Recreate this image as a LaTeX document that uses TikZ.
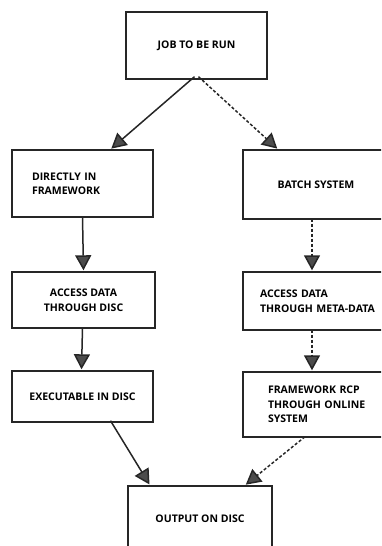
\documentclass[tikz,border=0pt]{standalone}
\usepackage{fontspec}
\setmainfont{Open Sans}
\usepackage{tikz}
\usetikzlibrary{arrows.meta}

\begin{document}
\begin{tikzpicture}[x=1pt,y=-1pt,
  procbox/.style={draw=black!85,line width=1.4pt,inner sep=0pt,font=\bfseries\fontsize{10.5}{14.5}\selectfont},
  flow/.style={draw=black!85,line width=1.5pt,-{Triangle[length=15pt,width=16pt,fill=black!70]},shorten >=1pt},
  batchflow/.style={flow,dash pattern=on 3pt off 2pt}]

\useasboundingbox (0,0) rectangle (381,546);
\clip (0,0) rectangle (381,546);

%% boxes
\node[procbox,minimum width=141pt,minimum height=67pt] (job) at (196.5,45.5) {JOB TO BE RUN};
\node[procbox,minimum width=141pt,minimum height=67pt,text width=101pt,align=left] (direct) at (82.5,183.5) {DIRECTLY IN\\FRAMEWORK};
\node[procbox,minimum width=146pt,minimum height=69pt] (batch) at (316,184.5) {BATCH SYSTEM};
\node[procbox,minimum width=143pt,minimum height=56pt,align=center] (accdisc) at (83.5,300) {ACCESS DATA\\THROUGH DISC};
\node[procbox,minimum width=146pt,minimum height=58pt,text width=112pt,align=left] (accmeta) at (316,301) {ACCESS DATA\\\mbox{THROUGH META-DATA}};
\node[procbox,minimum width=141pt,minimum height=51pt] (exec) at (82.5,396.5) {EXECUTABLE IN DISC};
\node[procbox,minimum width=146pt,minimum height=65pt,text width=96pt,align=left] (online) at (316,404.5) {FRAMEWORK RCP\\\mbox{THROUGH ONLINE}\\SYSTEM};
\node[procbox,minimum width=144pt,minimum height=66pt] (output) at (200,519) {OUTPUT ON DISC};

%%% arrows
\draw[flow] ([xshift=-2pt,yshift=3pt]job.south) -- ([xshift=28pt]direct.north);
\draw[batchflow] ([xshift=2pt,yshift=3pt]job.south) -- ([xshift=-38pt]batch.north);
\draw[flow] ([yshift=1pt]direct.south) -- (accdisc.north);
\draw[batchflow] ([xshift=-4pt,yshift=1pt]batch.south) -- ([xshift=-4pt]accmeta.north);
\draw[flow] ([xshift=-1pt,yshift=1pt]accdisc.south) -- ([xshift=-1pt]exec.north);
\draw[batchflow] ([xshift=-4pt,yshift=1pt]accmeta.south) -- ([xshift=-4pt]online.north);
\draw[flow] ([xshift=28pt,yshift=2pt]exec.south) -- ([xshift=-50pt]output.north);
\draw[batchflow] ([xshift=-11pt,yshift=1pt]online.south) -- ([xshift=45pt]output.north);

\end{tikzpicture}
\end{document}
